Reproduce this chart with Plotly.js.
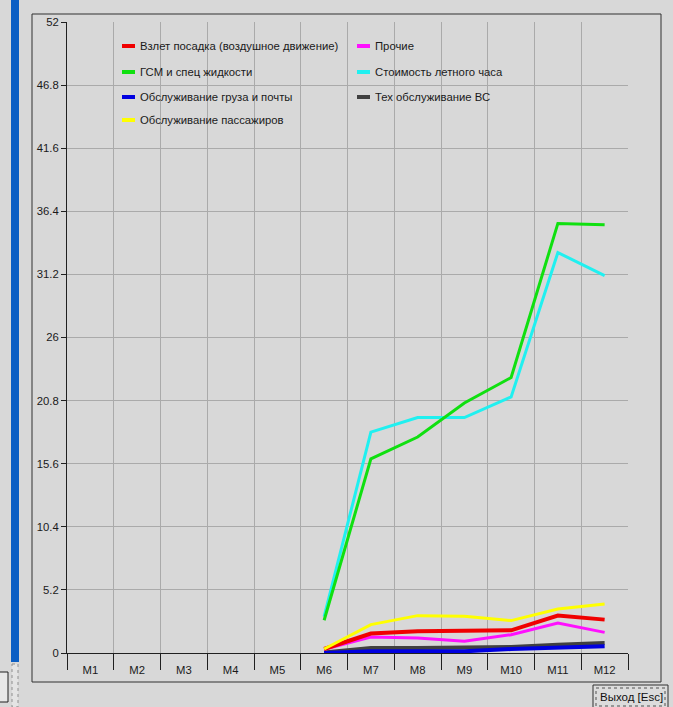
<!DOCTYPE html>
<html>
<head>
<meta charset="utf-8">
<script src="https://cdn.plot.ly/plotly-3.0.1.min.js"></script>
<style>
html,body{margin:0;padding:0;background:#d8d8d8;}
#chart{width:673px;height:707px;}
</style>
</head>
<body>
<div id="chart"></div>
<script>
// ---- data ----
const months = ['M1','M2','M3','M4','M5','M6','M7','M8','M9','M10','M11','M12'];
const vzletPosadka   = [null,null,null,null,null,0.33,1.60,1.79,1.79,1.87,3.08,2.75];
const gsm            = [null,null,null,null,null,2.70,16.0,17.8,20.6,22.7,35.4,35.3];
const gruzPochta     = [null,null,null,null,null,0.00,0.14,0.14,0.14,0.33,0.41,0.55];
const passazhiry     = [null,null,null,null,null,0.33,2.34,3.08,3.02,2.67,3.63,4.04];
const prochie        = [null,null,null,null,null,0.30,1.32,1.24,0.96,1.51,2.47,1.70];
const stoimostChasa  = [null,null,null,null,null,3.00,18.2,19.4,19.4,21.1,33.0,31.1];
const tehObsluzh     = [null,null,null,null,null,0.05,0.41,0.41,0.41,0.49,0.69,0.82];

const seriesNames = ['Взлет посадка (воздушное движение)','ГСМ и спец жидкости','Обслуживание груза и почты','Обслуживание пассажиров','Прочие','Стоимость летного часа','Тех обслуживание ВС'];
const yTickVals  = [0,5.2,10.4,15.6,20.8,26,31.2,36.4,41.6,46.8,52];
const yTickText  = ['0','5.2','10.4','15.6','20.8','26','31.2','36.4','41.6','46.8','52'];

// ---- styles ----
const seriesData = [vzletPosadka,gsm,gruzPochta,passazhiry,prochie,stoimostChasa,tehObsluzh];
const colors = ['#f00000','#10e010','#0000e0','#ffff00','#ff10ff','#20f0f0','#404040'];
const widths = [4,3,4,3,3,3,4];
const drawOrder = [6,2,4,0,3,5,1];

const W = 673, H = 707;
const M = {l:67, r:45, t:22, b:54};
const PW = W - M.l - M.r, PH = H - M.t - M.b;
const px = x => (x - M.l) / PW;
const py = y => (H - M.b - y) / PH;

const traces = drawOrder.map(i => ({
  type:'scatter', mode:'lines', x: months, y: seriesData[i], name: seriesNames[i],
  line:{color:colors[i], width:widths[i]}, showlegend:false, hoverinfo:'skip', connectgaps:false
}));

const FAM = '"Liberation Sans", Arial, sans-serif';
const font = {family:FAM, size:11.3, color:'#1a1a1a'};

const shapes = [];
const annotations = [];
// outer frame
shapes.push({type:'rect', xref:'paper', yref:'paper', x0:px(32), x1:px(661), y0:py(14), y1:py(682), line:{color:'#303030', width:1}, layer:'below'});
// left window bar
shapes.push({type:'rect', xref:'paper', yref:'paper', x0:px(11), x1:px(19), y0:py(0), y1:py(662), line:{width:0}, fillcolor:'#0a5ec4', layer:'below'});
shapes.push({type:'rect', xref:'paper', yref:'paper', x0:px(12), x1:px(18), y0:py(664), y1:py(707), line:{color:'#909090', width:1, dash:'dot'}, fillcolor:'#e4e4e4', layer:'below'});
// small left button
shapes.push({type:'rect', xref:'paper', yref:'paper', x0:px(-2), x1:px(8), y0:py(672), y1:py(702), line:{color:'#202020', width:1}, fillcolor:'#e8e8e8', layer:'below'});
// exit button
shapes.push({type:'rect', xref:'paper', yref:'paper', x0:px(593), x1:px(668), y0:py(685), y1:py(708), line:{color:'#303030', width:1}, fillcolor:'#dcdcdc', layer:'below'});
shapes.push({type:'rect', xref:'paper', yref:'paper', x0:px(596), x1:px(665), y0:py(688), y1:py(706), line:{color:'#505050', width:1, dash:'dot'}, layer:'below'});
annotations.push({xref:'paper', yref:'paper', x:px(631), y:py(697), text:'Выход [Esc]', showarrow:false, xanchor:'center', yanchor:'middle', font:{family:FAM, size:11.5, color:'#101010'}});

// manual legend (two columns)
const legCols = [122, 357];
const legRows = [46, 72, 97, 120];
const legendLayout = [[0,0],[0,1],[0,2],[0,3],[1,0],[1,1],[1,2]];
legendLayout.forEach((cr, i) => {
  const x = legCols[cr[0]], y = legRows[cr[1]];
  shapes.push({type:'line', xref:'paper', yref:'paper', x0:px(x), x1:px(x+13), y0:py(y), y1:py(y), line:{color:colors[i], width:4}});
  annotations.push({xref:'paper', yref:'paper', x:px(x+16), y:py(y), text:seriesNames[i], showarrow:false, xanchor:'left', yanchor:'middle', font:font});
});

const layout = {
  width:W, height:H, margin:M,
  paper_bgcolor:'#d8d8d8', plot_bgcolor:'#d8d8d8',
  font: font, showlegend:false,
  xaxis:{type:'category', categoryorder:'array', categoryarray:months, range:[-0.5,11.5],
    tickson:'boundaries', ticks:'outside', ticklen:16, tickcolor:'#202020', tickwidth:1,
    showgrid:true, gridcolor:'#aaaaaa', gridwidth:1,
    showline:true, linecolor:'#202020', linewidth:1, zeroline:false,
    ticklabelstandoff:6, tickfont:font, fixedrange:true},
  yaxis:{range:[0,52], tickvals:yTickVals, ticktext:yTickText, ticks:'outside', ticklen:5, tickcolor:'#202020',
    showgrid:true, gridcolor:'#aaaaaa', gridwidth:1, showline:true, linecolor:'#202020', linewidth:1,
    zeroline:true, zerolinecolor:'#202020', zerolinewidth:1, tickfont:font, fixedrange:true},
  yaxis2:{overlaying:'y', side:'right', range:[0,52], tickvals:yTickVals, ticktext:yTickText, ticks:'outside', ticklen:5,
    tickcolor:'#202020', showgrid:false, showline:true, linecolor:'#202020', linewidth:1, zeroline:false, tickfont:font, fixedrange:true},
  shapes: shapes, annotations: annotations
};

Plotly.newPlot('chart', traces, layout, {staticPlot:true, displayModeBar:false});
</script>
</body>
</html>
